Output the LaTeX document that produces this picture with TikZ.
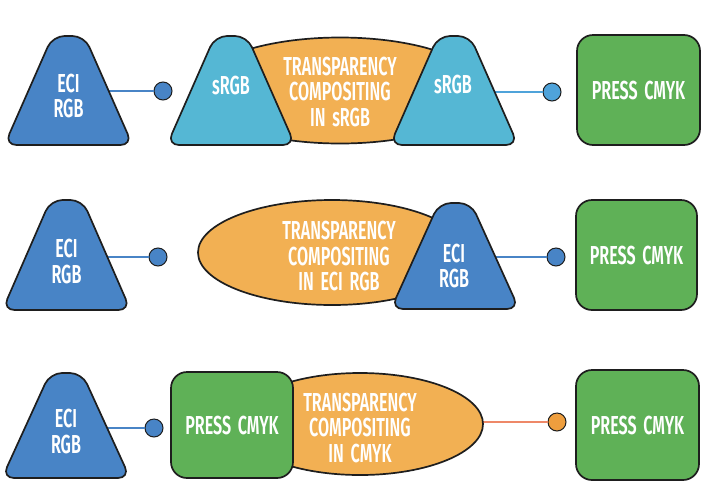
\documentclass[tikz,border=0pt]{standalone}
\usepackage{fontspec}
\newfontfamily\lab{Fira Sans}[UprightFont=* SemiBold, FakeStretch=0.62, WordSpace=1.7]
\usetikzlibrary{shapes.geometric}
\definecolor{outc}{HTML}{1E1E1E}
\definecolor{dblue}{HTML}{4884C6}
\definecolor{lblue}{HTML}{55B7D4}
\definecolor{lblue2}{HTML}{4FA3DA}
\definecolor{porange}{HTML}{F2B053}
\definecolor{dorange}{HTML}{EE9E3E}
\definecolor{salmon}{HTML}{EE8868}
\definecolor{pgreen}{HTML}{5FB157}
\tikzset{
  outl/.style={draw=outc, line width=1.7pt},
  lbl/.style={text=white, font=\lab\fontsize{26}{25.5}\selectfont, align=center, inner sep=0pt},
  rectbox/.style={outl, fill=pgreen, rounded corners=16pt, minimum width=123pt, minimum height=110pt, lbl},
  ovalbox/.style={outl, fill=porange, ellipse, inner sep=0pt},
  dot/.style={circle, draw=outc, line width=1pt, minimum size=18pt, inner sep=0pt},
  conn/.style={line width=1.2pt},
}
\newcommand\rtri[4]{%
  \draw[outl, fill=#4, rounded corners=12pt] (#1,#3) -- (#1+64,#3) -- (#1+16,#2) -- (#1-16,#2) -- (#1-64,#3) -- cycle;}
\begin{document}
\begin{tikzpicture}[x=1pt,y=-1pt]
\useasboundingbox (0,0) rectangle (706,496);
\fill[white] (0,0) rectangle (706,496);
% ---------- row 1
\coordinate (tA) at (68.5,91);
\coordinate (tC) at (454,92);
\node[dot, fill=dblue] (cA) at (163,91) {};
\node[dot, fill=lblue2] (cB) at (552,92) {};
\draw[conn, dblue] (tA) -- (cA);
\draw[conn, lblue2] (tC) -- (cB);
\node[ovalbox, minimum width=290pt, minimum height=106pt] (eA) at (340,90.5) {};
\rtri{68.5}{36}{145}{dblue}
\node[lbl] (tAt) at (68.5,96) {ECI\\RGB};
\rtri{231}{36}{145}{lblue}
\node[lbl] (tBt) at (231,85) {sRGB};
\rtri{454}{36}{145}{lblue}
\node[lbl] (tCt) at (453,84) {sRGB};
\node[lbl] (eAt) at (340,91.5) {TRANSPARENCY\\COMPOSITING\\IN sRGB};
\node[rectbox] (rA) at (638.5,90) {PRESS CMYK};
% ---------- row 2
\coordinate (tD) at (66.5,257);
\coordinate (tE) at (455,257);
\node[dot, fill=dblue] (cC) at (158,257) {};
\node[dot, fill=dblue] (cD) at (556,257) {};
\draw[conn, dblue] (tD) -- (cC);
\draw[conn, dblue] (tE) -- (cD);
\node[ovalbox, minimum width=268pt, minimum height=105pt] (eB) at (332,252.5) {};
\rtri{66.5}{200}{310}{dblue}
\node[lbl] (tDt) at (66.5,261.5) {ECI\\RGB};
\rtri{455}{203}{309}{dblue}
\node[lbl] (tEt) at (454,266) {ECI\\RGB};
\node[lbl] (eBt) at (339,256) {TRANSPARENCY\\COMPOSITING\\IN ECI RGB};
\node[rectbox, minimum width=121pt] (rB) at (636.5,255) {PRESS CMYK};
% ---------- row 3
\coordinate (tF) at (66,428);
\node[dot, fill=dblue] (cE) at (154,428) {};
\draw[conn, dblue] (tF) -- (cE);
\node[dot, fill=dorange] (cF) at (557,422) {};
\draw[conn, salmon] (cF) -- (cF -| 360,0);
\node[ovalbox, minimum width=246pt, minimum height=102pt] (eC) at (360,424) {};
\rtri{66}{373}{478}{dblue}
\node[lbl] (tFt) at (66,431.5) {ECI\\RGB};
\node[rectbox, minimum width=122pt, minimum height=106pt] (rC) at (232,425) {PRESS CMYK};
\node[lbl] (eCt) at (360,427.5) {TRANSPARENCY\\COMPOSITING\\IN CMYK};
\node[rectbox] (rD) at (637.5,425) {PRESS CMYK};
\end{tikzpicture}
\end{document}
